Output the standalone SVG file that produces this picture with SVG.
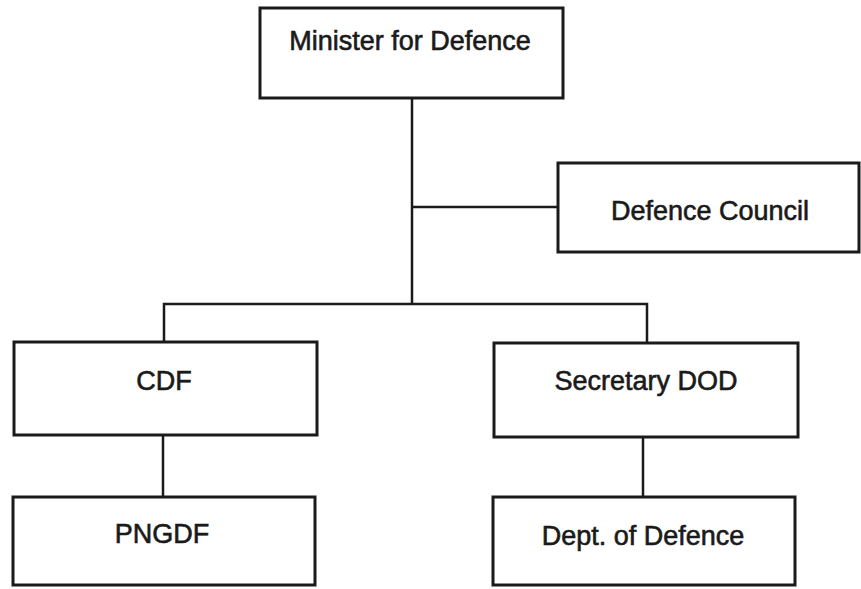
<svg xmlns="http://www.w3.org/2000/svg" width="861" height="589" viewBox="0 0 861 589">
<style>
.box{fill:#fff;stroke:#1a1a1a;stroke-width:3}
.lbl{font-family:"Liberation Sans",Arial,sans-serif;font-size:27px;fill:#1a1a1a;stroke:#1a1a1a;stroke-width:0.6;text-anchor:middle}
.con{fill:none;stroke:#1a1a1a;stroke-width:2.5}
</style>
<rect width="861" height="589" fill="#fff"/>
<g id="connectors">
<path class="con" d="M412 98 V304"/>
<path class="con" d="M412 207 H558"/>
<path class="con" d="M164 342 V304 H647 V343"/>
<path class="con" d="M163 435 V497"/>
<path class="con" d="M643 437 V497"/>
</g>
<g id="minister"><rect class="box" x="260" y="8" width="303" height="90"/><text class="lbl" x="410" y="50">Minister for Defence</text></g>
<g id="council"><rect class="box" x="558" y="163" width="301" height="89"/><text class="lbl" x="710" y="220">Defence Council</text></g>
<g id="cdf"><rect class="box" x="14" y="342" width="303" height="93"/><text class="lbl" x="164" y="390">CDF</text></g>
<g id="secretary"><rect class="box" x="494" y="343" width="304" height="94"/><text class="lbl" x="646" y="390">Secretary DOD</text></g>
<g id="pngdf"><rect class="box" x="13" y="497" width="302" height="88"/><text class="lbl" x="162" y="543">PNGDF</text></g>
<g id="dept"><rect class="box" x="493" y="497" width="302" height="88"/><text class="lbl" x="643" y="545">Dept. of Defence</text></g>
</svg>
